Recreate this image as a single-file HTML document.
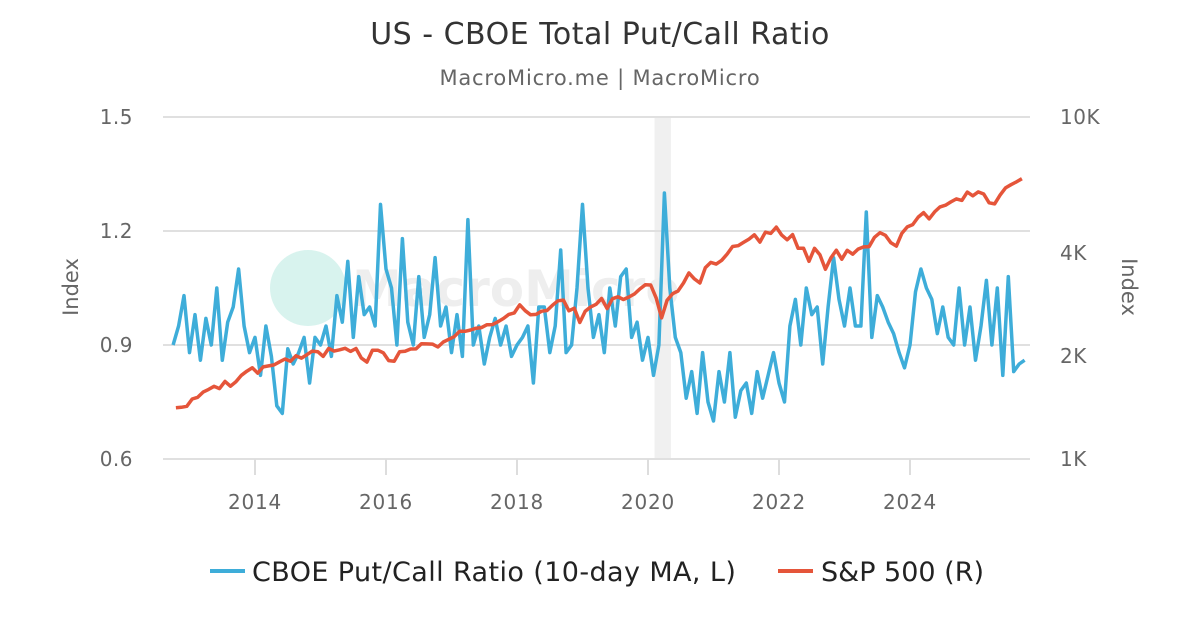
<!DOCTYPE html>
<html><head><meta charset="utf-8"><style>
body{margin:0;background:#fff;}
svg text{font-family:"DejaVu Sans","Liberation Sans",sans-serif;}
</style></head><body>
<svg id="chart" width="1200" height="630" xmlns="http://www.w3.org/2000/svg">
<rect width="1200" height="630" fill="#fff"/>
<text x="600" y="44" text-anchor="middle" font-size="30" letter-spacing="0.5" fill="#333">US - CBOE Total Put/Call Ratio</text>
<text x="600" y="85" text-anchor="middle" font-size="21" letter-spacing="0.8" fill="#666">MacroMicro.me | MacroMicro</text>
<g id="grid"></g>
<g>
<circle cx="308" cy="288" r="38" fill="#d8f3ee"/>
<text x="352" y="306" font-size="50" fill="#eeeeee" font-weight="bold">MacroMicro</text>
</g>
<g id="series"></g>
<text transform="translate(78,287) rotate(-90)" text-anchor="middle" font-size="21" fill="#666">Index</text>
<text transform="translate(1122,287) rotate(90)" text-anchor="middle" font-size="21" fill="#666">Index</text>
<g>
<g>
<line x1="210" y1="571" x2="245" y2="571" stroke="#3eadd9" stroke-width="4"/>
<text x="252" y="581" font-size="27" letter-spacing="0.4" fill="#222">CBOE Put/Call Ratio (10-day MA, L)</text></g>
<g>
<line x1="778" y1="571" x2="813" y2="571" stroke="#e5553a" stroke-width="4"/>
<text x="821" y="581" font-size="27" fill="#222">S&amp;P 500 (R)</text></g>
</g>
</svg>
<script>
const leftTicks=[0.6,0.9,1.2,1.5];
const rightTicks=[1000,2000,4000,10000];
const rightTickLabels=["1K","2K","4K","10K"];
const xTicks=[2014,2016,2018,2020,2022,2024];
const recession=[2020.1,2020.35];
const startYear=2012.75;
const putCall=[0.90,0.95,1.03,0.88,
0.98,0.86,0.97,0.90,1.05,0.86,0.96,1.00,1.10,0.95,0.88,0.92,
0.82,0.95,0.87,0.74,0.72,0.89,0.85,0.88,0.92,0.80,0.92,0.90,
0.95,0.87,1.03,0.96,1.12,0.92,1.08,0.98,1.00,0.95,1.27,1.10,
1.05,0.90,1.18,0.96,0.90,1.08,0.92,0.98,1.13,0.95,1.00,0.88,
0.98,0.87,1.23,0.90,0.95,0.85,0.92,0.97,0.90,0.95,0.87,0.90,
0.92,0.95,0.80,1.00,1.00,0.88,0.95,1.15,0.88,0.90,1.05,1.27,
1.05,0.92,0.98,0.88,1.05,0.95,1.08,1.10,0.92,0.96,0.86,0.92,
0.82,0.90,1.30,1.05,0.92,0.88,0.76,0.83,0.72,0.88,0.75,0.70,
0.83,0.75,0.88,0.71,0.78,0.80,0.72,0.83,0.76,0.82,0.88,0.80,
0.75,0.95,1.02,0.90,1.05,0.98,1.00,0.85,1.00,1.13,1.02,0.95,
1.05,0.95,0.95,1.25,0.92,1.03,1.00,0.96,0.93,0.88,0.84,0.90,
1.04,1.10,1.05,1.02,0.93,1.00,0.92,0.90,1.05,0.90,1.00,0.86,
0.95,1.07,0.90,1.05,0.82,1.08,0.83,0.85,0.86];
const sp500=[1412,1416,1426,
1498,1515,1569,1598,1631,1606,1686,1633,1682,1757,1806,1848,
1783,1859,1872,1884,1924,1960,1931,2003,1972,2018,2068,2059,
1995,2105,2068,2086,2107,2063,2104,1972,1920,2079,2080,2044,
1940,1932,2060,2065,2097,2099,2174,2171,2168,2126,2199,2239,
2279,2364,2363,2384,2412,2423,2470,2472,2519,2575,2648,2674,
2824,2714,2641,2648,2705,2718,2816,2902,2914,2712,2760,2507,
2704,2784,2834,2946,2752,2942,2980,2926,2977,3038,3141,3231,
3226,2954,2585,2912,3044,3100,3271,3500,3363,3270,3622,3756,
3714,3811,3973,4181,4204,4298,4395,4523,4308,4605,4567,4766,
4516,4374,4530,4132,4132,3785,4130,3955,3586,3872,4080,3840,
4077,3970,4109,4169,4180,4450,4589,4508,4288,4194,4568,4770,
4846,5096,5254,5036,5278,5460,5522,5648,5762,5705,6032,5882,
6040,5955,5612,5569,5912,6205,6339,6460,6600];

const NS="http://www.w3.org/2000/svg";
const L=163,R=1030,T=117,B=459;
const xS=t=>255+(t-2014)*65.5;
const yL=v=>B-(v-0.6)/0.9*(B-T);
const yR=v=>B-Math.log10(v/1000)*(B-T);
function mk(tag,attrs,parent){const e=document.createElementNS(NS,tag);for(const k in attrs)e.setAttribute(k,attrs[k]);parent.appendChild(e);return e;}
const grid=document.getElementById('grid');
const band=mk('rect',{x:xS(recession[0]),y:T,width:xS(recession[1])-xS(recession[0]),height:B-T,fill:'#f0f0f0'},grid);


leftTicks.forEach(v=>{
 const g=mk('line',{x1:L,x2:R,y1:yL(v),y2:yL(v),stroke:'#e0e0e0','stroke-width':2},grid);
 
 
 const t=mk('text',{x:133,y:yL(v)+7,'text-anchor':'end','font-size':20,'letter-spacing':0.5,fill:'#666'},grid);
 t.textContent=v.toFixed(1);
 
 
});
rightTicks.forEach((v,i)=>{
 const t=mk('text',{x:1060,y:yR(v)+7,'font-size':20,'letter-spacing':0.5,fill:'#666'},grid);
 t.textContent=rightTickLabels[i];
 
 
});
xTicks.forEach(y=>{
 const m=mk('line',{x1:xS(y),x2:xS(y),y1:B,y2:B+16,stroke:'#ddd','stroke-width':2},grid);
 
 
 const t=mk('text',{x:xS(y),y:509,'text-anchor':'middle','font-size':20,'letter-spacing':0.8,fill:'#666'},grid);
 t.textContent=y;
 
 
});
const s=document.getElementById('series');
const pb=putCall.map((v,i)=>xS(startYear+i/12).toFixed(1)+','+yL(v).toFixed(1)).join(' ');
const blue=mk('polyline',{points:pb,fill:'none',stroke:'#3eadd9','stroke-width':3.5,'stroke-linejoin':'round'},s);


const pr=sp500.map((v,i)=>xS(startYear+(i+0.5)/12).toFixed(1)+','+yR(v).toFixed(1)).join(' ');
const red=mk('polyline',{points:pr,fill:'none',stroke:'#e5553a','stroke-width':3.5,'stroke-linejoin':'round'},s);


</script>
</body></html>
